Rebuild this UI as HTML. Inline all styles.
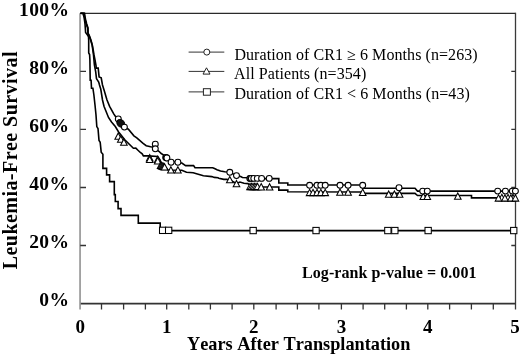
<!DOCTYPE html>
<html><head><meta charset="utf-8"><style>
html,body{margin:0;padding:0;background:#fff;}
body{width:520px;height:355px;overflow:hidden;}
svg{display:block;will-change:transform;}
text{font-kerning:none;}
.b{font-family:"Liberation Serif",serif;font-weight:bold;fill:#000;}
.r{font-family:"Liberation Serif",serif;fill:#000;}
</style></head><body>
<svg width="520" height="355" viewBox="0 0 520 355">
<rect width="520" height="355" fill="#fff"/>
<path d="M80.05,13.3 V309.5" stroke="#8a8a8a" stroke-width="1.5" fill="none"/>
<path d="M80,13.4 H515.5" stroke="#2a2a2a" stroke-width="1.4" fill="none"/>
<path d="M515.5,12.7 V309.5" stroke="#3a3a3a" stroke-width="1.3" fill="none"/>
<path d="M80.8,303.6 H515.5" stroke="#333" stroke-width="1.6" fill="none"/>
<g stroke="#333" stroke-width="1.3" fill="none">
<path d="M101.5,303.6 V309.5"/>
<path d="M123.6,303.6 V309.5"/>
<path d="M145.4,303.6 V309.5"/>
<path d="M166.7,303.6 V309.5"/>
<path d="M188.8,303.6 V309.5"/>
<path d="M210.4,303.6 V309.5"/>
<path d="M232.1,303.6 V309.5"/>
<path d="M253.8,303.6 V309.5"/>
<path d="M276.1,303.6 V309.5"/>
<path d="M297.4,303.6 V309.5"/>
<path d="M318.9,303.6 V309.5"/>
<path d="M341.4,303.6 V309.5"/>
<path d="M363.1,303.6 V309.5"/>
<path d="M384.7,303.6 V309.5"/>
<path d="M406.4,303.6 V309.5"/>
<path d="M427.8,303.6 V309.5"/>
<path d="M449.6,303.6 V309.5"/>
<path d="M471.4,303.6 V309.5"/>
<path d="M493.3,303.6 V309.5"/>
<path d="M80.2,245.5 H86 M511.3,245.5 H515.5"/>
<path d="M80.2,187.5 H86 M511.3,187.5 H515.5"/>
<path d="M80.2,129.4 H86 M511.3,129.4 H515.5"/>
<path d="M80.2,71.4 H86 M511.3,71.4 H515.5"/>
</g>
<g stroke="#000" stroke-width="1.6" fill="none" stroke-linejoin="miter">
<polyline points="80.5,13.3 83.0,13.6 84.0,17.0 84.6,21.0 85.0,24.0 85.3,28.0 85.6,32.5 87.5,35.0 88.5,37.0 88.7,40.0 88.7,53.0 89.6,54.5 89.9,60.0 90.2,80.3 91.1,80.3 91.5,88.2 92.9,88.2 93.9,95.0 95.0,105.0 96.0,115.0 96.8,126.6 98.0,128.5 99.0,140.4 100.2,142.3 101.2,152.2 102.9,154.2 102.9,168.4 106.6,168.4 106.6,174.9 109.6,174.9 109.6,181.6 114.3,181.6 114.3,194.6 115.3,194.6 115.3,201.5 118.1,201.5 118.1,208.6 121.0,208.6 121.0,215.4 138.3,215.4 138.3,223.1 160.2,223.1 160.2,230.6 515.0,230.6"/>
<polyline points="80.5,13.3 84.5,13.3 85.4,19.0 86.7,24.0 88.0,28.0 88.1,33.0 89.5,36.0 90.9,40.0 92.3,45.0 93.2,50.0 94.0,55.0 95.0,60.0 96.1,66.0 96.1,68.1 98.2,68.1 99.1,76.9 101.2,77.8 102.5,85.0 104.2,90.4 107.0,100.0 109.6,106.3 113.6,113.6 115.8,117.0 118.3,119.2 120.9,123.2 124.4,127.1 128.4,129.2 133.9,135.8 136.8,137.8 142.8,143.2 146.2,145.7 150.6,146.7 155.4,147.5 155.4,148.9 159.2,151.5 161.2,153.5 163.0,154.6 166.8,157.8 170.6,161.6 181.8,163.0 185.6,165.6 193.6,165.6 195.0,167.7 212.7,167.7 214.5,168.5 217.0,169.7 220.5,171.0 224.7,171.8 229.8,172.3 236.5,175.6 240.7,176.5 242.4,177.5 248.0,177.8 252.0,178.6 278.8,178.6 278.8,183.0 287.8,183.0 287.8,185.0 362.7,185.0 362.7,188.2 415.0,188.2 417.5,191.1 515.0,191.1"/>
<polyline points="80.5,13.3 84.0,13.3 84.9,19.0 86.2,24.0 87.6,28.0 87.9,33.0 89.2,36.0 90.6,40.0 92.1,45.0 92.8,50.0 93.5,55.0 94.4,65.0 95.7,71.9 96.5,78.6 98.7,82.0 99.5,85.0 100.8,89.3 102.5,100.0 104.0,106.3 108.5,117.5 111.5,122.0 115.3,126.5 118.6,132.0 125.0,140.0 133.4,148.2 135.8,148.1 138.0,150.3 140.3,152.5 142.2,153.9 143.4,155.9 148.1,155.9 157.6,156.5 160.0,160.0 162.0,165.0 166.0,167.5 168.0,170.0 181.8,170.3 186.5,172.3 193.2,172.8 197.4,174.0 203.4,175.7 211.8,176.6 214.3,177.4 218.0,177.8 218.8,178.2 223.8,179.4 226.8,179.4 229.8,180.0 236.5,183.5 239.9,182.0 244.0,183.2 248.0,183.6 252.0,187.0 278.8,187.0 278.8,190.1 287.8,190.1 287.8,191.8 362.7,192.0 362.7,193.4 415.0,193.4 417.5,195.5 471.5,195.5 471.5,197.9 515.0,197.9"/>
</g>
<g stroke="#000" stroke-width="1.05" fill="#fff">
<rect x="159.5" y="227.2" width="6.3" height="6.3"/>
<rect x="165.5" y="227.2" width="6.3" height="6.3"/>
<rect x="250.0" y="227.4" width="6.3" height="6.3"/>
<rect x="312.9" y="227.4" width="6.3" height="6.3"/>
<rect x="384.7" y="227.4" width="6.3" height="6.3"/>
<rect x="391.7" y="227.4" width="6.3" height="6.3"/>
<rect x="425.0" y="227.4" width="6.3" height="6.3"/>
<rect x="510.6" y="227.4" width="6.3" height="6.3"/>
<path d="M118.2,133.0 L121.5,139.3 L114.9,139.3 Z"/>
<path d="M120.8,135.9 L124.1,142.2 L117.5,142.2 Z"/>
<path d="M123.9,139.0 L127.2,145.3 L120.6,145.3 Z"/>
<path d="M149.7,154.6 L153.0,160.9 L146.4,160.9 Z"/>
<path d="M149.7,156.2 L153.0,162.5 L146.4,162.5 Z"/>
<path d="M157.7,156.1 L161.0,162.4 L154.4,162.4 Z"/>
<path d="M157.7,157.6 L161.0,163.9 L154.4,163.9 Z"/>
<path d="M160.6,162.2 L163.9,168.5 L157.3,168.5 Z"/>
<path d="M161.4,162.5 L164.7,168.8 L158.1,168.8 Z"/>
<path d="M162.2,162.8 L165.5,169.1 L158.9,169.1 Z"/>
<path d="M163.0,163.1 L166.3,169.4 L159.7,169.4 Z"/>
<path d="M163.8,163.4 L167.1,169.7 L160.5,169.7 Z"/>
<path d="M164.6,163.7 L167.9,170.0 L161.3,170.0 Z"/>
<path d="M170.9,166.7 L174.2,173.0 L167.6,173.0 Z"/>
<path d="M177.9,166.7 L181.2,173.0 L174.6,173.0 Z"/>
<path d="M229.8,176.5 L233.1,182.8 L226.5,182.8 Z"/>
<path d="M236.5,180.5 L239.8,186.8 L233.2,186.8 Z"/>
<path d="M250.0,183.3 L253.3,189.6 L246.7,189.6 Z"/>
<path d="M251.5,183.3 L254.8,189.6 L248.2,189.6 Z"/>
<path d="M253.0,183.3 L256.3,189.6 L249.7,189.6 Z"/>
<path d="M254.5,183.3 L257.8,189.6 L251.2,189.6 Z"/>
<path d="M256.0,183.3 L259.3,189.6 L252.7,189.6 Z"/>
<path d="M257.5,183.3 L260.8,189.6 L254.2,189.6 Z"/>
<path d="M261.2,183.6 L264.5,189.9 L257.9,189.9 Z"/>
<path d="M269.6,183.7 L272.9,190.0 L266.3,190.0 Z"/>
<path d="M309.6,189.3 L312.9,195.6 L306.3,195.6 Z"/>
<path d="M313.0,189.3 L316.3,195.6 L309.7,195.6 Z"/>
<path d="M317.0,189.3 L320.3,195.6 L313.7,195.6 Z"/>
<path d="M320.8,189.3 L324.1,195.6 L317.5,195.6 Z"/>
<path d="M325.2,189.3 L328.5,195.6 L321.9,195.6 Z"/>
<path d="M340.0,189.0 L343.3,195.3 L336.7,195.3 Z"/>
<path d="M348.1,189.0 L351.4,195.3 L344.8,195.3 Z"/>
<path d="M362.7,189.1 L366.0,195.4 L359.4,195.4 Z"/>
<path d="M388.7,190.9 L392.0,197.2 L385.4,197.2 Z"/>
<path d="M394.4,190.9 L397.7,197.2 L391.1,197.2 Z"/>
<path d="M399.6,190.9 L402.9,197.2 L396.3,197.2 Z"/>
<path d="M423.3,193.2 L426.6,199.5 L420.0,199.5 Z"/>
<path d="M427.3,193.2 L430.6,199.5 L424.0,199.5 Z"/>
<path d="M457.8,193.0 L461.1,199.3 L454.5,199.3 Z"/>
<path d="M501.8,194.3 L505.1,200.6 L498.5,200.6 Z"/>
<path d="M508.0,194.3 L511.3,200.6 L504.7,200.6 Z"/>
<path d="M513.0,194.5 L516.3,200.8 L509.7,200.8 Z"/>
<path d="M498.5,194.8 L501.8,201.1 L495.2,201.1 Z"/>
<path d="M504.9,194.8 L508.2,201.1 L501.6,201.1 Z"/>
<path d="M510.8,194.8 L514.1,201.1 L507.5,201.1 Z"/>
<path d="M515.4,194.8 L518.7,201.1 L512.1,201.1 Z"/>
<circle cx="118.3" cy="119.0" r="2.95"/>
<ellipse cx="120.8" cy="123.4" rx="4.4" ry="3.4" transform="rotate(45 120.8 123.4)" fill="#111"/>
<circle cx="124.4" cy="127.1" r="2.95"/>
<circle cx="155.3" cy="144.2" r="2.95"/>
<circle cx="155.3" cy="148.8" r="2.95"/>
<circle cx="165.7" cy="157.4" r="2.95"/>
<circle cx="166.3" cy="157.7" r="2.95"/>
<circle cx="166.9" cy="158.0" r="2.95"/>
<circle cx="171.1" cy="162.2" r="2.95"/>
<circle cx="177.9" cy="162.2" r="2.95"/>
<circle cx="229.8" cy="172.3" r="2.95"/>
<circle cx="236.5" cy="175.6" r="2.95"/>
<circle cx="249.8" cy="178.4" r="2.95"/>
<circle cx="250.6" cy="178.4" r="2.95"/>
<circle cx="251.4" cy="178.4" r="2.95"/>
<circle cx="253.8" cy="178.4" r="2.95"/>
<circle cx="257.3" cy="178.4" r="2.95"/>
<circle cx="261.6" cy="178.4" r="2.95"/>
<circle cx="269.2" cy="178.4" r="2.95"/>
<circle cx="309.6" cy="185.3" r="2.95"/>
<circle cx="317.0" cy="185.3" r="2.95"/>
<circle cx="320.8" cy="185.3" r="2.95"/>
<circle cx="325.2" cy="185.3" r="2.95"/>
<circle cx="340.0" cy="185.3" r="2.95"/>
<circle cx="348.1" cy="185.3" r="2.95"/>
<circle cx="362.7" cy="185.3" r="2.95"/>
<circle cx="399.0" cy="187.7" r="2.95"/>
<circle cx="422.7" cy="191.1" r="2.95"/>
<circle cx="427.3" cy="191.1" r="2.95"/>
<circle cx="497.7" cy="191.1" r="2.95"/>
<circle cx="505.4" cy="191.1" r="2.95"/>
<circle cx="512.3" cy="191.1" r="2.95"/>
<circle cx="515.4" cy="191.1" r="2.95"/>
</g>
<path d="M188.6,52.1 H224.3" stroke="#333" stroke-width="1" fill="none"/>
<circle cx="206.8" cy="52.1" r="3.0" stroke="#222" stroke-width="1" fill="#fff"/>
<path d="M188.6,71.4 H224.3" stroke="#333" stroke-width="1" fill="none"/>
<path d="M206.5,67.80000000000001 L210,74.10000000000001 L203,74.10000000000001 Z" stroke="#222" stroke-width="1" fill="#fff"/>
<path d="M188.6,91.9 H224.3" stroke="#333" stroke-width="1" fill="none"/>
<rect x="203.4" y="88.7" width="7.0" height="6.5" stroke="#222" stroke-width="1" fill="#fff"/>
<g class="b" font-size="19.5" letter-spacing="0.4"><text x="69.4" y="305.9" text-anchor="end">0%</text><text x="69.4" y="247.8" text-anchor="end">20%</text><text x="69.4" y="189.8" text-anchor="end">40%</text><text x="69.4" y="131.7" text-anchor="end">60%</text><text x="69.4" y="73.7" text-anchor="end">80%</text><text x="69.4" y="15.6" text-anchor="end">100%</text></g>
<g class="b" font-size="19"><text x="80.3" y="332.7" text-anchor="middle">0</text><text x="166.7" y="332.7" text-anchor="middle">1</text><text x="253.8" y="332.7" text-anchor="middle">2</text><text x="341.4" y="332.7" text-anchor="middle">3</text><text x="427.8" y="332.7" text-anchor="middle">4</text><text x="515.0" y="332.7" text-anchor="middle">5</text></g>
<text class="b" font-size="20" letter-spacing="0.45" transform="translate(16.6,269.3) rotate(-90)">Leukemia-Free Survival</text>
<text class="b" font-size="18.3" x="187.0" y="350.3">Years After Transplantation</text>
<text class="b" font-size="16" letter-spacing="0.08" x="302.0" y="277.5">Log-rank p-value = 0.001</text>
<g class="r" font-size="16" letter-spacing="0.07">
<text x="234.4" y="59.9">Duration of CR1 ≥ 6 Months (n=263)</text>
<text x="234.1" y="78.9">All Patients (n=354)</text>
<text x="234.4" y="98.7">Duration of CR1 &lt; 6 Months (n=43)</text>
</g>
</svg>
</body></html>
